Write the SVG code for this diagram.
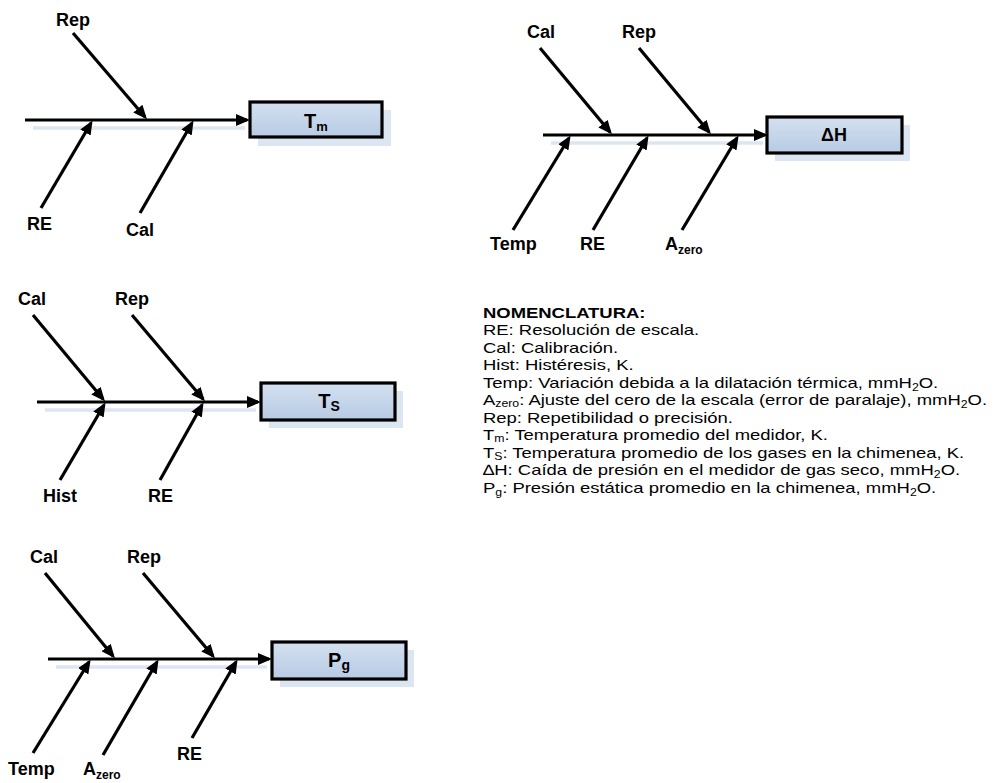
<svg xmlns="http://www.w3.org/2000/svg" width="993" height="783" viewBox="0 0 993 783">
<defs>
<marker id="ah" viewBox="0 0 14 12" markerWidth="14" markerHeight="12" refX="11" refY="6" orient="auto" markerUnits="userSpaceOnUse">
<path d="M0,0 L14,6 L0,12 z" fill="#000"/>
</marker>
<linearGradient id="bg" x1="0" y1="0" x2="0" y2="1">
<stop offset="0" stop-color="#d4e0f0"/>
<stop offset="1" stop-color="#b7cbe4"/>
</linearGradient>
<style>
.ar{stroke:#000;stroke-width:3.2;fill:none;marker-end:url(#ah)}
.sh{stroke:#dce6f2;stroke-width:3.5;fill:none}
.box{fill:url(#bg);stroke:#000;stroke-width:3.2}
.bsh{fill:#dce6f2}
.lb{font-family:"Liberation Sans",Arial,sans-serif;font-weight:bold;font-size:18px;fill:#000}
.bt{font-family:"Liberation Sans",Arial,sans-serif;font-weight:bold;font-size:20px;fill:#000}
.sub{font-size:12px}
.nm{font-family:"Liberation Sans",Arial,sans-serif;font-size:15px;fill:#000}
.ns{font-size:10px}
</style>
</defs>

<g id="connectors">
<line class="sh" x1="33" y1="128" x2="245" y2="128"/>
<line class="sh" x1="551" y1="143" x2="763" y2="143"/>
<line class="sh" x1="45" y1="410" x2="256" y2="410"/>
<line class="sh" x1="56" y1="667" x2="267" y2="667"/>

<line class="ar" x1="25" y1="120" x2="247" y2="120"/>
<line class="ar" x1="73" y1="33" x2="145" y2="117"/>
<line class="ar" x1="41" y1="208" x2="91" y2="123"/>
<line class="ar" x1="140" y1="213" x2="192" y2="123"/>

<line class="ar" x1="543" y1="135" x2="765" y2="135"/>
<line class="ar" x1="540" y1="48" x2="610" y2="132"/>
<line class="ar" x1="639" y1="48" x2="709" y2="132"/>
<line class="ar" x1="513" y1="230" x2="569" y2="138"/>
<line class="ar" x1="593" y1="230" x2="647" y2="138"/>
<line class="ar" x1="682" y1="230" x2="737" y2="138"/>

<line class="ar" x1="37" y1="402" x2="258" y2="402"/>
<line class="ar" x1="33" y1="315" x2="103" y2="399"/>
<line class="ar" x1="132" y1="315" x2="203" y2="399"/>
<line class="ar" x1="60" y1="480" x2="104" y2="405"/>
<line class="ar" x1="160" y1="480" x2="202" y2="405"/>

<line class="ar" x1="48" y1="659" x2="269" y2="659"/>
<line class="ar" x1="45" y1="573" x2="113" y2="656"/>
<line class="ar" x1="143" y1="573" x2="213" y2="656"/>
<line class="ar" x1="33" y1="753" x2="89" y2="662"/>
<line class="ar" x1="103" y1="755" x2="157" y2="662"/>
<line class="ar" x1="192" y1="738" x2="236" y2="662"/>
</g>

<g id="labels">
<text class="lb" x="56" y="26">Rep</text>
<text class="lb" x="27" y="230">RE</text>
<text class="lb" x="126" y="236">Cal</text>

<text class="lb" x="527" y="38">Cal</text>
<text class="lb" x="622" y="38">Rep</text>
<text class="lb" x="490" y="250">Temp</text>
<text class="lb" x="580" y="250">RE</text>
<text class="lb" x="665" y="250">A<tspan class="sub" dy="4">zero</tspan></text>

<text class="lb" x="18" y="305">Cal</text>
<text class="lb" x="115" y="305">Rep</text>
<text class="lb" x="43" y="502">Hist</text>
<text class="lb" x="148" y="502">RE</text>

<text class="lb" x="30" y="563">Cal</text>
<text class="lb" x="127" y="563">Rep</text>
<text class="lb" x="8" y="775">Temp</text>
<text class="lb" x="83" y="775">A<tspan class="sub" dy="4">zero</tspan></text>
<text class="lb" x="177" y="760">RE</text>
</g>

<g id="node-Tm">
<rect class="bsh" x="258" y="110" width="133" height="36"/>
<rect class="box" x="250" y="102" width="132" height="35"/>
<text class="bt" x="316" y="128" text-anchor="middle">T<tspan font-size="13" dy="3">m</tspan></text>
</g>

<g id="node-dH">
<rect class="bsh" x="775" y="125" width="135" height="36"/>
<rect class="box" x="767" y="117" width="135" height="36"/>
<text class="lb" x="834" y="141" text-anchor="middle" font-size="15">ΔH</text>
</g>

<g id="node-Ts">
<rect class="bsh" x="269" y="391" width="134" height="37"/>
<rect class="box" x="261" y="383" width="134" height="37"/>
<text class="bt" x="329" y="408" text-anchor="middle">T<tspan font-size="14" dy="3">S</tspan></text>
</g>

<g id="node-Pg">
<rect class="bsh" x="280" y="650" width="134" height="37"/>
<rect class="box" x="272" y="642" width="134" height="37"/>
<text class="bt" x="339" y="667" text-anchor="middle">P<tspan font-size="14" dy="3">g</tspan></text>
</g>

<g id="nomenclatura" transform="translate(483,0) scale(1.23,1)">
<text class="nm" x="0" y="318" font-weight="bold">NOMENCLATURA:</text>
<text class="nm" x="0" y="335.5">RE: Resolución de escala.</text>
<text class="nm" x="0" y="353">Cal: Calibración.</text>
<text class="nm" x="0" y="370.5">Hist: Histéresis, K.</text>
<text class="nm" x="0" y="388">Temp: Variación debida a la dilatación térmica, mmH<tspan class="ns" dy="3">2</tspan><tspan dy="-3">O.</tspan></text>
<text class="nm" x="0" y="405.5">A<tspan class="ns" dy="2">zero</tspan><tspan dy="-2">: Ajuste del cero de la escala (error de paralaje), mmH</tspan><tspan class="ns" dy="3">2</tspan><tspan dy="-3">O.</tspan></text>
<text class="nm" x="0" y="423">Rep: Repetibilidad o precisión.</text>
<text class="nm" x="0" y="440.5">T<tspan class="ns" dy="2">m</tspan><tspan dy="-2">: Temperatura promedio del medidor, K.</tspan></text>
<text class="nm" x="0" y="458">T<tspan class="ns" dy="2">S</tspan><tspan dy="-2">: Temperatura promedio de los gases en la chimenea, K.</tspan></text>
<text class="nm" x="0" y="475.5">∆H:  Caída de presión en el medidor de gas seco, mmH<tspan class="ns" dy="3">2</tspan><tspan dy="-3">O.</tspan></text>
<text class="nm" x="0" y="493">P<tspan class="ns" dy="3">g</tspan><tspan dy="-3">: Presión estática promedio en la chimenea, mmH</tspan><tspan class="ns" dy="3">2</tspan><tspan dy="-3">O.</tspan></text>
</g>
</svg>
